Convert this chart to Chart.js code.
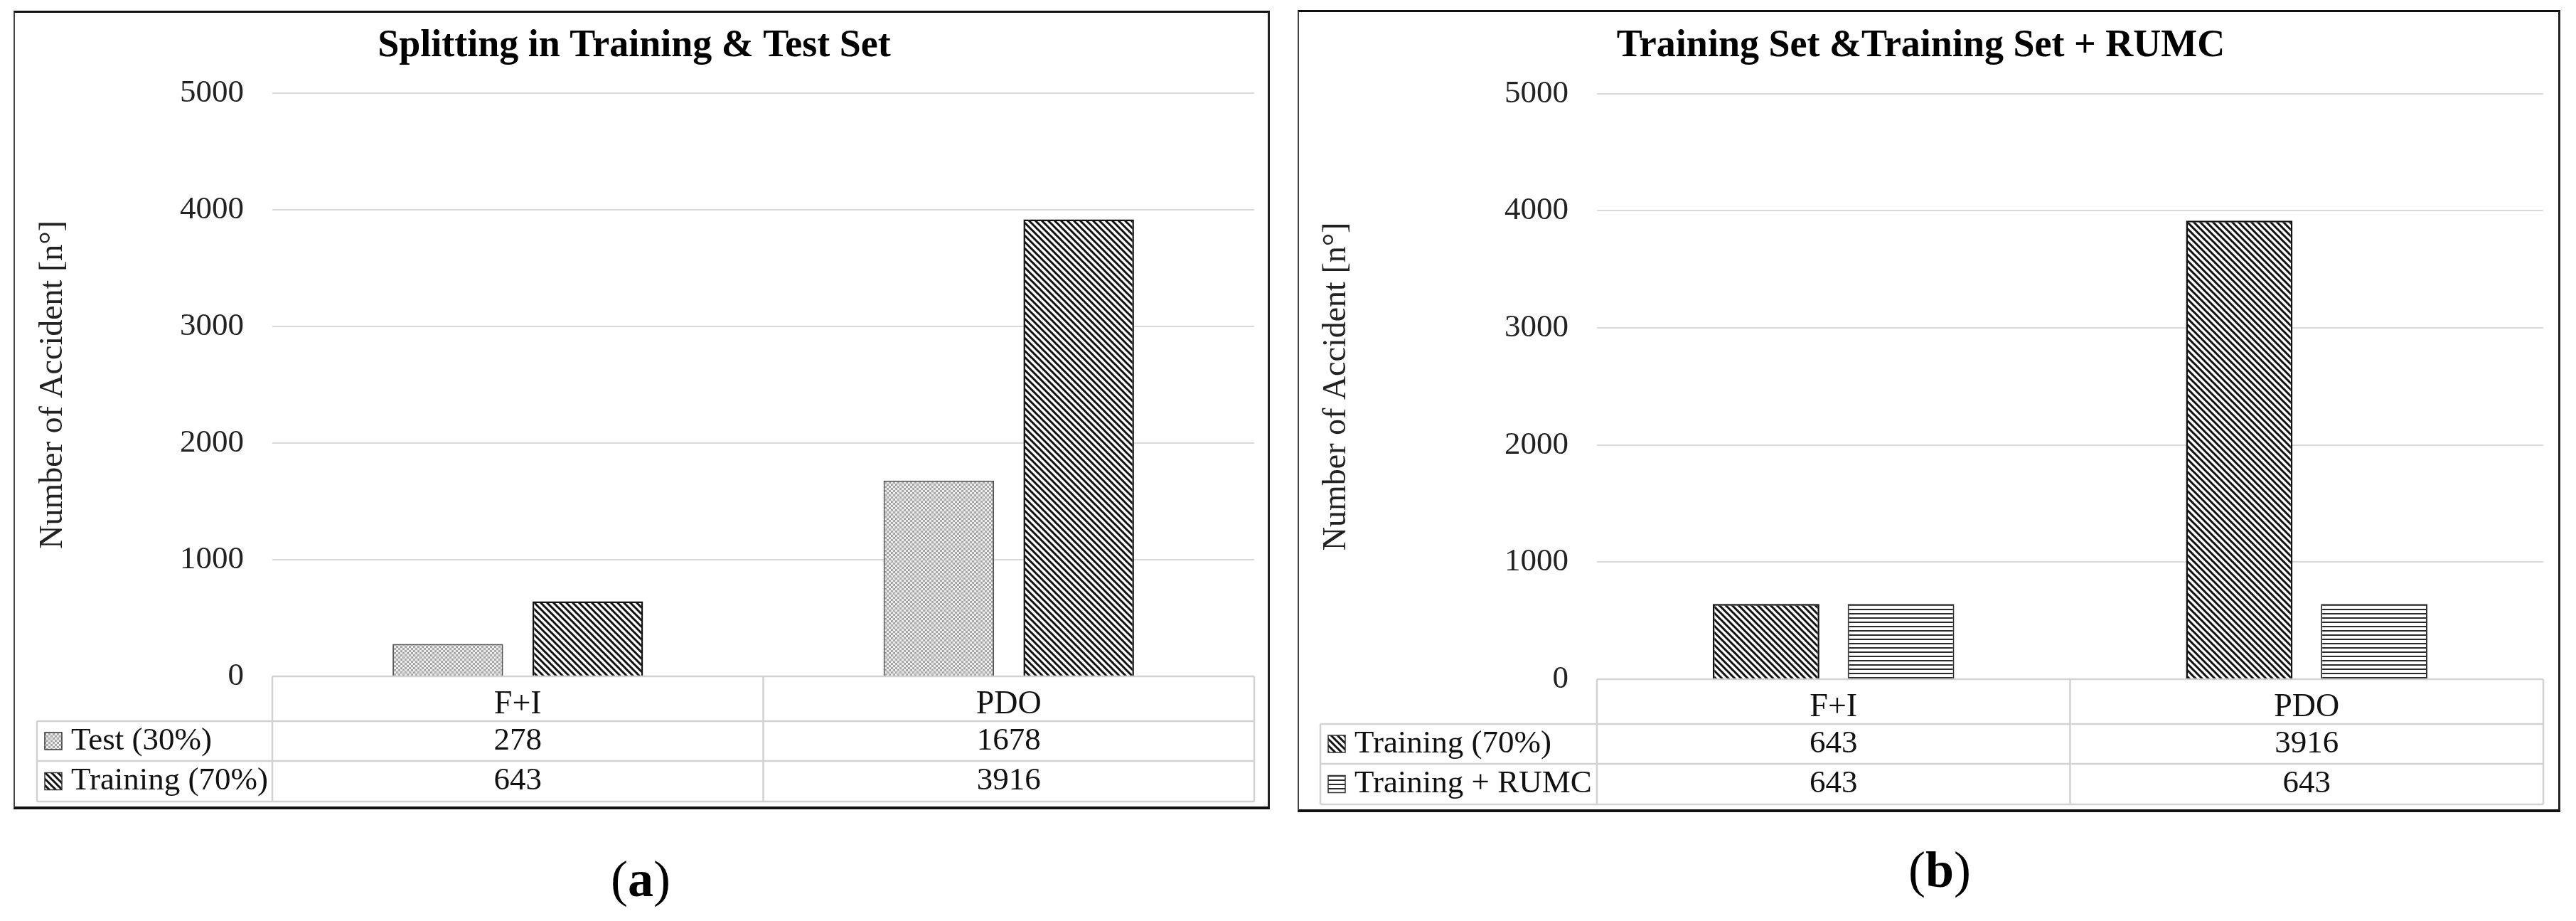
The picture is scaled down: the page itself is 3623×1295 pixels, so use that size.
<!DOCTYPE html>
<html lang="en">
<head>
<meta charset="UTF-8">
<title>Splitting in Training &amp; Test Set</title>
<script src="https://cdn.jsdelivr.net/npm/chart.js@4.4.1/dist/chart.umd.min.js"></script>
<style>
  body { margin: 0; background: #fff; width: 3623px; height: 1295px; position: relative; overflow: hidden; font-family: "Liberation Serif", serif; }
  canvas { position: absolute; }
  .frame { position: absolute; box-sizing: border-box; pointer-events: none;
           border-top: 3px solid #111; border-bottom: 4px solid #111; border-left: 2px solid #444; border-right: 3px solid #222; }
  .cap { position: absolute; width: 200px; text-align: center; font-size: 72px; line-height: 72px; color: #000; }
</style>
</head>
<body>

<canvas id="chartA" width="1765" height="1120" style="left:20px;top:17px"></canvas>
<canvas id="chartB" width="1774" height="1125" style="left:1826px;top:16px"></canvas>
<div class="frame" style="left:19px;top:15px;width:1767px;height:1123px"></div>
<div class="frame" style="left:1825px;top:14px;width:1776px;height:1128px"></div>
<div class="cap" style="left:801px;top:1200px">(<b>a</b>)</div>
<div class="cap" style="left:2628px;top:1187px">(<b>b</b>)</div>

<script>
// values (the data tables under the bars)
const categories = ['F+I', 'PDO'];
const testSet = [278, 1678];
const trainingSet = [643, 3916];
const trainingRumc = [643, 643];
const yTicks = [0, 1000, 2000, 3000, 4000, 5000];

const serif = 'Liberation Serif';

function makePattern(w, h, paint) {
    const c = document.createElement('canvas');
    c.width = w; c.height = h;
    const g = c.getContext('2d');
    paint(g, w, h);
    return g.createPattern(c, 'repeat');
}

// fine grey dots
const dotted = makePattern(6, 6, (g, w, h) => {
    g.fillStyle = '#ebebeb'; g.fillRect(0, 0, w, h);
    g.fillStyle = '#a9a9a9'; g.fillRect(0, 0, 3, 3); g.fillRect(3, 3, 3, 3);
});
// dense "\" hatching
const diagonal = makePattern(9, 9, (g, s) => {
    g.fillStyle = '#fff'; g.fillRect(0, 0, s, s);
    g.strokeStyle = '#111'; g.lineWidth = 3;
    g.beginPath();
    for (const o of [-s, 0, s]) { g.moveTo(o - 2, -2); g.lineTo(o + s + 2, s + 2); }
    g.stroke();
});
// horizontal lines
const horizontal = makePattern(8, 6, (g, w, h) => {
    g.fillStyle = '#fff'; g.fillRect(0, 0, w, h);
    g.fillStyle = '#2a2a2a'; g.fillRect(0, 0, w, 2);
});

// data table under the plot: legend column + one row per dataset
const dataTable = {
    id: 'dataTable',
    afterDraw(chart, args, opts) {
        const {ctx, chartArea: ca, scales: {x}} = chart;
        const top = ca.bottom, r1 = top + 63, r2 = top + 119, bot = top + 176;
        const legL = opts.legendLeft;
        const mid = (x.getPixelForValue(0) + x.getPixelForValue(1)) / 2;

        ctx.save();
        ctx.strokeStyle = '#d2d2d2';
        ctx.lineWidth = 2.5;
        ctx.beginPath();
        ctx.moveTo(ca.left, top); ctx.lineTo(ca.right, top);
        [r1, r2, bot].forEach(y => { ctx.moveTo(legL, y); ctx.lineTo(ca.right, y); });
        [ca.left, mid, ca.right].forEach(px => { ctx.moveTo(px, top); ctx.lineTo(px, bot); });
        ctx.moveTo(legL, r1); ctx.lineTo(legL, bot);
        ctx.stroke();

        ctx.font = '45px "' + serif + '"';
        ctx.fillStyle = '#111';
        ctx.textBaseline = 'middle';
        const centers = [top + 91, top + 147.5];
        chart.data.datasets.forEach((ds, i) => {
            const cy = centers[i];
            ctx.fillStyle = ds.backgroundColor;
            ctx.fillRect(legL + 11, cy - 12, 24, 24);
            ctx.strokeStyle = '#333';
            ctx.lineWidth = 1.5;
            ctx.strokeRect(legL + 11, cy - 12, 24, 24);
            ctx.fillStyle = '#111';
            ctx.textAlign = 'left';
            ctx.fillText(ds.label, legL + 48, cy);
            ctx.textAlign = 'center';
            ds.data.forEach((v, j) => ctx.fillText(String(v), x.getPixelForValue(j), cy));
        });
        ctx.restore();
    }
};

function makeConfig(title, datasets, g) {
    return {
        type: 'bar',
        data: { labels: categories, datasets: datasets },
        options: {
            responsive: false,
            animation: false,
            devicePixelRatio: 1,
            layout: { padding: { left: 0, right: g.padRight, top: 0, bottom: 0 } },
            datasets: { bar: { categoryPercentage: 0.57, barPercentage: 0.79 } },
            plugins: {
                legend: { display: false },
                tooltip: { enabled: false },
                title: {
                    display: true, text: title, color: '#000',
                    font: { family: serif, size: 54, weight: 'bold' },
                    padding: { top: g.titleTop, bottom: g.titleBottom }
                },
                dataTable: { legendLeft: g.legendLeft }
            },
            scales: {
                x: {
                    grid: { display: false },
                    border: { display: false },
                    ticks: { color: '#111', padding: 4, font: { family: serif, size: 46 } },
                    afterFit: s => { s.height = 186; }
                },
                y: {
                    min: 0, max: 5000,
                    afterBuildTicks: s => { s.ticks = yTicks.map(v => ({ value: v })); },
                    grid: { color: '#d9d9d9', lineWidth: 2, drawTicks: false },
                    border: { display: false },
                    ticks: { color: '#222', padding: 40, font: { family: serif, size: 45 },
                             callback: v => String(v) },
                    title: {
                        display: true, text: 'Number of Accident [n°]', color: '#222',
                        font: { family: serif, size: 46 },
                        padding: { top: g.yTitlePad, bottom: 0 }
                    },
                    afterFit: s => { s.width = g.axisWidth; }
                }
            }
        },
        plugins: [dataTable]
    };
}

new Chart(document.getElementById('chartA'), makeConfig('Splitting in Training & Test Set', [
    { label: 'Test (30%)', data: testSet, backgroundColor: dotted, borderColor: '#555', borderWidth: 2 },
    { label: 'Training (70%)', data: trainingSet, backgroundColor: diagonal, borderColor: '#111', borderWidth: 2.5 }
], { padRight: 21, titleTop: 16, titleBottom: 33, axisWidth: 363, yTitlePad: 27, legendLeft: 32 }));

new Chart(document.getElementById('chartB'), makeConfig('Training Set &Training Set + RUMC', [
    { label: 'Training (70%)', data: trainingSet, backgroundColor: diagonal, borderColor: '#111', borderWidth: 2.5 },
    { label: 'Training + RUMC', data: trainingRumc, backgroundColor: horizontal, borderColor: '#333', borderWidth: 2 }
], { padRight: 23, titleTop: 17, titleBottom: 34, axisWidth: 420, yTitlePad: 26, legendLeft: 31 }));
</script>
</body>
</html>
